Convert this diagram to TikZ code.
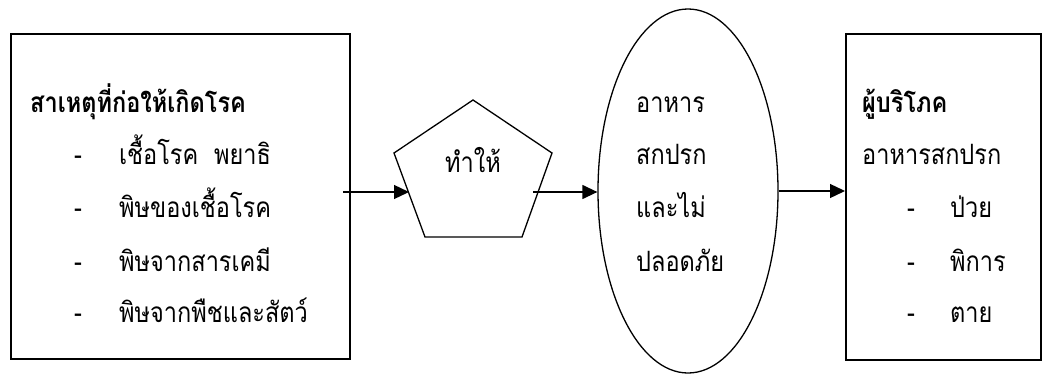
\documentclass[tikz,border=0pt]{standalone}
\usepackage{fontspec}
\newfontfamily\thai[Script=Thai,FakeStretch=0.84]{Loma}
\usetikzlibrary{arrows.meta,shapes.geometric}
\begin{document}
\begin{tikzpicture}[x=1pt,y=-1pt,
  frame/.style={draw, line width=1.5pt, inner sep=0pt},
  txt/.style={anchor=base west, inner sep=0pt, font=\thai\fontsize{28}{28}\selectfont},
  ttl/.style={txt, font=\thai\bfseries\fontsize{28}{28}\selectfont},
  dsh/.style={anchor=base, inner sep=0pt, font=\thai\fontsize{28}{28}\selectfont},
  arr/.style={line width=1.3pt, -{Triangle[length=15pt,width=14pt]}}]
\useasboundingbox (0,0) rectangle (1042,375);
% boxes
\node[frame, anchor=north west, minimum width=339pt, minimum height=325pt] (lbox) at (10,33) {};
\node[frame, anchor=north west, minimum width=195pt, minimum height=326pt] (rbox) at (845,33) {};
\node[draw, line width=1.3pt, ellipse, inner sep=0pt, minimum width=180pt, minimum height=364pt] (ell) at (688,191) {};
% pentagon
\coordinate (pt) at (473,100);
\coordinate (pul) at (394,153);
\coordinate (pur) at (552,153);
\coordinate (pbl) at (425,237);
\coordinate (pbr) at (522,237);
\draw[line width=1.3pt, line join=miter] (pt) -- (pur) -- (pbr) -- (pbl) -- (pul) -- cycle;
\node[anchor=base, inner sep=0pt, font=\thai\fontsize{28}{28}\selectfont] (pent) at (473,172) {ทำให้};
% left texts
\node[ttl] (t0) at (30,112) {สาเหตุที่ก่อให้เกิดโรค};
\node[dsh] (d1) at (78,164) {-};
\node[txt] (t1) at (119,164) {เชื้อโรค\ \ พยาธิ};
\node[dsh] (d2) at (78,217) {-};
\node[txt] (t2) at (119,217) {พิษของเชื้อโรค};
\node[dsh] (d3) at (78,271) {-};
\node[txt] (t3) at (119,271) {พิษจากสารเคมี};
\node[dsh] (d4) at (78,322) {-};
\node[txt] (t4) at (119,322) {พิษจากพืชและสัตว์};
% ellipse texts
\node[txt] (e1) at (636,112) {อาหาร};
\node[txt] (e2) at (636,164) {สกปรก};
\node[txt] (e3) at (636,217) {และไม่};
\node[txt] (e4) at (636,271) {ปลอดภัย};
% right texts
\node[ttl] (r0) at (862,112) {ผู้บริโภค};
\node[txt] (r1) at (862,164) {อาหารสกปรก};
\node[dsh] (rd1) at (911,217) {-};
\node[txt] (r2) at (950,217) {ป่วย};
\node[dsh] (rd2) at (911,271) {-};
\node[txt] (r3) at (950,271) {พิการ};
\node[dsh] (rd3) at (911,322) {-};
\node[txt] (r4) at (950,322) {ตาย};
% arrows
\coordinate (a1s) at (343,192);
\coordinate (a1e) at (409,192);
\coordinate (a2s) at (533,192);
\draw[arr] (a1s) -- (a1e);
\draw[arr] (a2s) -- (a2s -| ell.west);
\draw[arr] (ell.east) -- (ell.east -| rbox.west);
\end{tikzpicture}
\end{document}
